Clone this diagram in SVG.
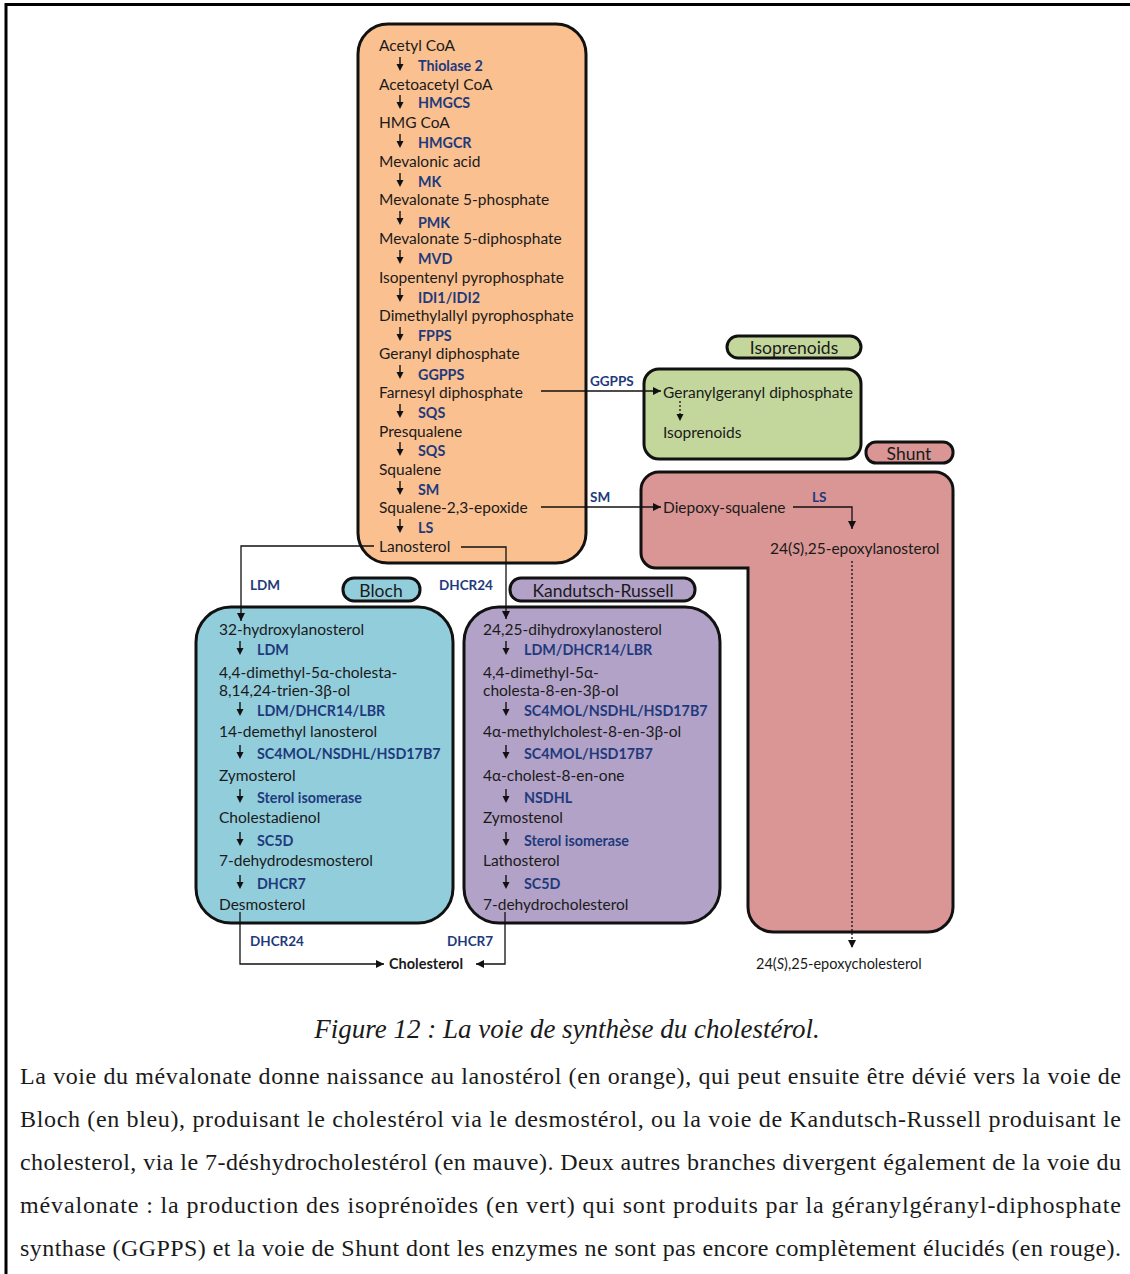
<svg xmlns="http://www.w3.org/2000/svg" xmlns:xlink="http://www.w3.org/1999/xlink" width="1130" height="1274" viewBox="0 0 1130 1274">
<style>
.t{font-family:Lato,"Open Sans","Liberation Sans",sans-serif;font-size:15.5px;fill:#1a1a1a;dominant-baseline:central}
.e{font-family:Lato,"Open Sans","Liberation Sans",sans-serif;font-size:14.3px;font-weight:bold;fill:#1f3a7c;dominant-baseline:central}
.c{font-family:Lato,"Open Sans","Liberation Sans",sans-serif;font-size:13.5px;font-weight:bold;fill:#1f3a7c;dominant-baseline:central}
.p{font-family:Lato,"Open Sans","Liberation Sans",sans-serif;font-size:17.5px;fill:#1a1a1a;dominant-baseline:central;text-anchor:middle}
.box{stroke:#111;stroke-width:3}
.ln{fill:none;stroke:#111;stroke-width:1.3}
.dot{fill:none;stroke:#111;stroke-width:1.3;stroke-dasharray:2 2}
.cap{font-family:"Liberation Serif","Times New Roman",serif;font-size:24px;fill:#1a1a1a}
</style>
<defs>
<marker id="ah" viewBox="0 0 10 10" refX="10" refY="5" markerWidth="8" markerHeight="8" markerUnits="userSpaceOnUse" orient="auto"><path d="M0 0 L10 5 L0 10 Z" fill="#111"/></marker>
<g id="dn"><line x1="0" y1="-7" x2="0" y2="1" stroke="#111" stroke-width="1.4"/><path d="M-3.5 0 L3.5 0 L0 7 Z" fill="#111"/></g>
</defs>
<rect width="1130" height="1274" fill="#fff"/>
<path d="M6 1274 V4.5 H1130" fill="none" stroke="#000" stroke-width="3"/>

<g id="mevalonate">
<rect class="box" x="358" y="24" width="228" height="539" rx="30" fill="#fac090"/>
<text class="t" x="379" y="45">Acetyl CoA</text>
<use xlink:href="#dn" x="400" y="64"/><text class="e" x="418" y="65">Thiolase 2</text>
<text class="t" x="379" y="84">Acetoacetyl CoA</text>
<use xlink:href="#dn" x="400" y="102"/><text class="e" x="418" y="102">HMGCS</text>
<text class="t" x="379" y="122">HMG CoA</text>
<use xlink:href="#dn" x="400" y="141"/><text class="e" x="418" y="142">HMGCR</text>
<text class="t" x="379" y="161">Mevalonic acid</text>
<use xlink:href="#dn" x="400" y="180"/><text class="e" x="418" y="181">MK</text>
<text class="t" x="379" y="199">Mevalonate 5-phosphate</text>
<use xlink:href="#dn" x="400" y="218"/><text class="e" x="418" y="222">PMK</text>
<text class="t" x="379" y="238">Mevalonate 5-diphosphate</text>
<use xlink:href="#dn" x="400" y="257"/><text class="e" x="418" y="258">MVD</text>
<text class="t" x="379" y="277">Isopentenyl pyrophosphate</text>
<use xlink:href="#dn" x="400" y="295"/><text class="e" x="418" y="297">IDI1/IDI2</text>
<text class="t" x="379" y="315">Dimethylallyl pyrophosphate</text>
<use xlink:href="#dn" x="400" y="334"/><text class="e" x="418" y="335">FPPS</text>
<text class="t" x="379" y="353">Geranyl diphosphate</text>
<use xlink:href="#dn" x="400" y="372"/><text class="e" x="418" y="374">GGPPS</text>
<text class="t" x="379" y="392">Farnesyl diphosphate</text>
<use xlink:href="#dn" x="400" y="411"/><text class="e" x="418" y="412">SQS</text>
<text class="t" x="379" y="431">Presqualene</text>
<use xlink:href="#dn" x="400" y="449"/><text class="e" x="418" y="450">SQS</text>
<text class="t" x="379" y="469">Squalene</text>
<use xlink:href="#dn" x="400" y="488"/><text class="e" x="418" y="489">SM</text>
<text class="t" x="379" y="507">Squalene-2,3-epoxide</text>
<use xlink:href="#dn" x="400" y="526"/><text class="e" x="418" y="527">LS</text>
<text class="t" x="379" y="546">Lanosterol</text>
</g>

<g id="isoprenoids">
<rect class="box" x="727" y="336" width="134" height="22" rx="11" fill="#c3d69b"/>
<text class="p" x="794" y="347">Isoprenoids</text>
<rect class="box" x="644" y="369" width="217" height="90" rx="15" fill="#c3d69b"/>
<text class="t" x="663" y="392">Geranylgeranyl diphosphate</text>
<line class="dot" x1="680" y1="401" x2="680" y2="414"/><path d="M676.5 414 L683.5 414 L680 421 Z" fill="#111"/>
<text class="t" x="663" y="432">Isoprenoids</text>
</g>

<g id="shunt">
<rect class="box" x="866" y="442" width="87" height="21" rx="10" fill="#d99694"/>
<text class="p" x="909" y="453">Shunt</text>
<path class="box" d="M659 472 H935 A18 18 0 0 1 953 490 V907 A25 25 0 0 1 928 932 H773 A25 25 0 0 1 748 907 V568 H656 A15 15 0 0 1 641 553 V490 A18 18 0 0 1 659 472 Z" fill="#d99694"/>
<text class="t" x="663" y="507">Diepoxy-squalene</text>
<text class="t" x="770" y="548">24(<tspan font-style="italic">S</tspan>),25-epoxylanosterol</text>
<text class="t" x="756" y="963" style="font-size:14.5px">24(<tspan font-style="italic">S</tspan>),25-epoxycholesterol</text>
</g>

<g id="bloch">
<rect class="box" x="343" y="578" width="77" height="23" rx="11" fill="#92cddc"/>
<text class="p" x="381" y="590">Bloch</text>
<rect class="box" x="196" y="607" width="257" height="316" rx="35" fill="#92cddc"/>
<text class="t" x="219" y="629">32-hydroxylanosterol</text>
<use xlink:href="#dn" x="240" y="648"/><text class="e" x="257" y="649">LDM</text>
<text class="t" x="219" y="672">4,4-dimethyl-5α-cholesta-</text>
<text class="t" x="219" y="690">8,14,24-trien-3β-ol</text>
<use xlink:href="#dn" x="240" y="709"/><text class="e" x="257" y="710">LDM/DHCR14/LBR</text>
<text class="t" x="219" y="731">14-demethyl lanosterol</text>
<use xlink:href="#dn" x="240" y="752"/><text class="e" x="257" y="753">SC4MOL/NSDHL/HSD17B7</text>
<text class="t" x="219" y="775">Zymosterol</text>
<use xlink:href="#dn" x="240" y="796"/><text class="e" x="257" y="797">Sterol isomerase</text>
<text class="t" x="219" y="817">Cholestadienol</text>
<use xlink:href="#dn" x="240" y="839"/><text class="e" x="257" y="840">SC5D</text>
<text class="t" x="219" y="860">7-dehydrodesmosterol</text>
<use xlink:href="#dn" x="240" y="882"/><text class="e" x="257" y="883">DHCR7</text>
<text class="t" x="219" y="904">Desmosterol</text>
</g>

<g id="kandutsch-russell">
<rect class="box" x="510" y="578" width="185" height="23" rx="11" fill="#b2a2c7"/>
<text class="p" x="603" y="590">Kandutsch-Russell</text>
<rect class="box" x="464" y="607" width="256" height="316" rx="35" fill="#b2a2c7"/>
<text class="t" x="483" y="629">24,25-dihydroxylanosterol</text>
<use xlink:href="#dn" x="506" y="648"/><text class="e" x="524" y="649">LDM/DHCR14/LBR</text>
<text class="t" x="483" y="672">4,4-dimethyl-5α-</text>
<text class="t" x="483" y="690">cholesta-8-en-3β-ol</text>
<use xlink:href="#dn" x="506" y="709"/><text class="e" x="524" y="710">SC4MOL/NSDHL/HSD17B7</text>
<text class="t" x="483" y="731">4α-methylcholest-8-en-3β-ol</text>
<use xlink:href="#dn" x="506" y="752"/><text class="e" x="524" y="753">SC4MOL/HSD17B7</text>
<text class="t" x="483" y="775">4α-cholest-8-en-one</text>
<use xlink:href="#dn" x="506" y="796"/><text class="e" x="524" y="797">NSDHL</text>
<text class="t" x="483" y="817">Zymostenol</text>
<use xlink:href="#dn" x="506" y="839"/><text class="e" x="524" y="840">Sterol isomerase</text>
<text class="t" x="483" y="860">Lathosterol</text>
<use xlink:href="#dn" x="506" y="882"/><text class="e" x="524" y="883">SC5D</text>
<text class="t" x="483" y="904">7-dehydrocholesterol</text>
</g>

<g id="cholesterol">
<text class="t" x="389" y="963" style="font-weight:bold;font-size:14.5px">Cholesterol</text>
</g>

<g id="connectors">
<line class="ln" x1="541" y1="391" x2="661" y2="391" marker-end="url(#ah)"/>
<text class="c" x="590" y="381">GGPPS</text>
<line class="ln" x1="541" y1="507" x2="661" y2="507" marker-end="url(#ah)"/>
<text class="c" x="590" y="497">SM</text>
<path class="ln" d="M793 507 H852 V529" marker-end="url(#ah)"/>
<text class="c" x="812" y="497">LS</text>
<line class="dot" x1="852" y1="561" x2="852" y2="948" marker-end="url(#ah)"/>
<path class="ln" d="M374 546 H241 V621" marker-end="url(#ah)"/>
<text class="c" x="250" y="585">LDM</text>
<path class="ln" d="M461 547 H506 V619" marker-end="url(#ah)"/>
<text class="c" x="439" y="585">DHCR24</text>
<path class="ln" d="M240 912 V964 H384" marker-end="url(#ah)"/>
<text class="c" x="250" y="941">DHCR24</text>
<path class="ln" d="M505 912 V964 H476" marker-end="url(#ah)"/>
<text class="c" x="447" y="941">DHCR7</text>
</g>

<g id="caption">
<text class="cap" x="567" y="1038" text-anchor="middle" style="font-style:italic;font-size:27px">Figure 12 : La voie de synthèse du cholestérol.</text>
<text class="cap" x="20" y="1084" textLength="1101" lengthAdjust="spacing">La voie du mévalonate donne naissance au lanostérol (en orange), qui peut ensuite être dévié vers la voie de</text>
<text class="cap" x="20" y="1127" textLength="1101" lengthAdjust="spacing">Bloch (en bleu), produisant le cholestérol via le desmostérol, ou la voie de Kandutsch-Russell produisant le</text>
<text class="cap" x="20" y="1170" textLength="1101" lengthAdjust="spacing">cholesterol, via le 7-déshydrocholestérol (en mauve). Deux autres branches divergent également de la voie du</text>
<text class="cap" x="20" y="1213" textLength="1101" lengthAdjust="spacing">mévalonate : la production des isoprénoïdes (en vert) qui sont produits par la géranylgéranyl-diphosphate</text>
<text class="cap" x="20" y="1256" textLength="1101" lengthAdjust="spacing">synthase (GGPPS) et la voie de Shunt dont les enzymes ne sont pas encore complètement élucidés (en rouge).</text>
</g>
</svg>
